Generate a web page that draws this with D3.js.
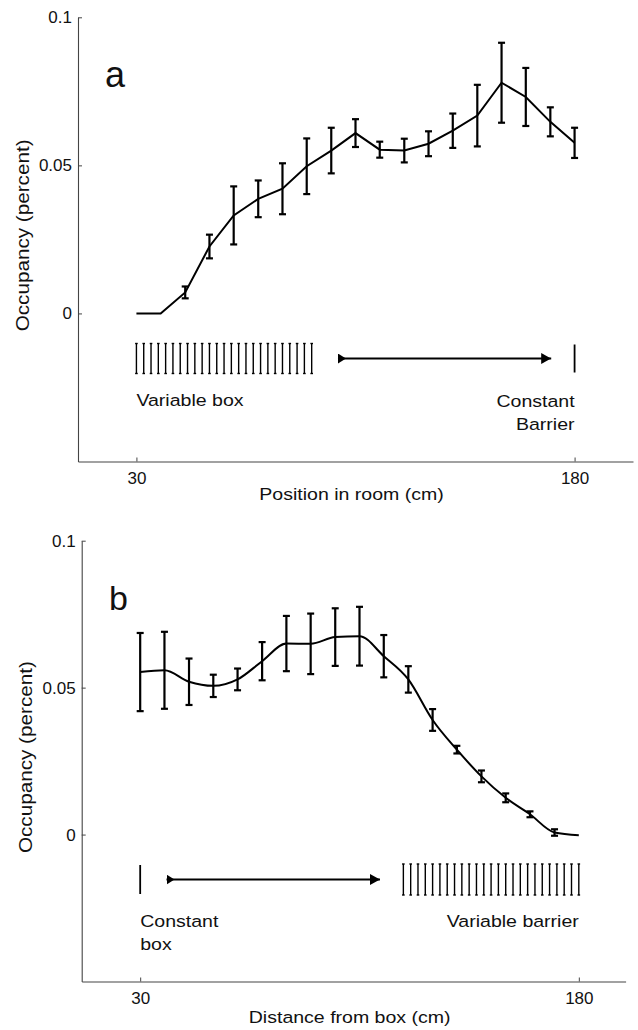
<!DOCTYPE html>
<html>
<head>
<meta charset="utf-8">
<script src="https://cdn.jsdelivr.net/npm/d3@7"></script>
<style>
  html, body { margin: 0; padding: 0; background: #fff; }
  svg { display: block; }
  text { font-family: "Liberation Sans", Arial, Helvetica, sans-serif; fill: #111; }
</style>
</head>
<body>
<svg id="chart" width="638" height="1030"></svg>
<script>
// ---------- data ----------
const positionsA = [30, 38.3, 46.7, 55, 63.3, 71.7, 80, 88.3, 96.7, 105, 113.3, 121.7, 130, 138.3, 146.7, 155, 163.3, 171.7, 180];
const occupancyA = [0, 0, 0.0071, 0.0226, 0.0331, 0.0387, 0.0421, 0.0497, 0.055, 0.0609, 0.0553, 0.055, 0.0573, 0.0617, 0.0668, 0.0779, 0.0731, 0.0647, 0.0576];
const errorA     = [0, 0, 0.002, 0.004, 0.0098, 0.0062, 0.0086, 0.0094, 0.0077, 0.0047, 0.0027, 0.004, 0.0042, 0.0058, 0.0104, 0.0135, 0.0098, 0.0049, 0.0051];

const distancesB = [30, 38.3, 46.7, 55, 63.3, 71.7, 80, 88.3, 96.7, 105, 113.3, 121.7, 130, 138.3, 146.7, 155, 163.3, 171.7, 180];
const occupancyB = [0.0553, 0.0559, 0.052, 0.0506, 0.0528, 0.059, 0.065, 0.0649, 0.0672, 0.0675, 0.0607, 0.0528, 0.039, 0.0289, 0.0198, 0.0125, 0.0069, 0.0007, -0.0002];
const errorB     = [0.0133, 0.0131, 0.0079, 0.0038, 0.0037, 0.0065, 0.0094, 0.0103, 0.0098, 0.01, 0.0072, 0.0045, 0.0037, 0.0013, 0.002, 0.0015, 0.001, 0.0011, 0];

// schematic annotations (cm)
const variableBoxA = [30, 32.5, 35, 37.5, 40, 42.5, 45, 47.5, 50, 52.5, 55, 57.5, 60, 62.5, 65, 67.5, 70, 72.5, 75, 77.5, 80, 82.5, 85, 87.5, 90];
const constantA = [180];
const arrowA = [99, 172];
const constantB = [30];
const arrowB = [39, 112];
const variableBarrierB = [120, 122.5, 125, 127.5, 130, 132.5, 135, 137.5, 140, 142.5, 145, 147.5, 150, 152.5, 155, 157.5, 160, 162.5, 165, 167.5, 170, 172.5, 175, 177.5, 180];

const yTicks = [0, 0.05, 0.1];
const yTickLabels = ["0", "0.05", "0.1"];
const xTicks = [30, 180];
const xTickLabels = ["30", "180"];

// ---------- drawing ----------
const svg = d3.select("#chart");
const SX = 1.15; // horizontal stretch of the original lettering

svg.append("defs").call(defs => {
  defs.append("marker").attr("id", "head").attr("markerUnits", "userSpaceOnUse")
    .attr("viewBox", "0 0 10 11").attr("markerWidth", 10).attr("markerHeight", 11)
    .attr("refX", 10).attr("refY", 5.5).attr("orient", "auto")
    .append("path").attr("d", "M0,0 L10,5.5 L0,11 Z").attr("fill", "#000");
  defs.append("marker").attr("id", "tail").attr("markerUnits", "userSpaceOnUse")
    .attr("viewBox", "0 0 8 10").attr("markerWidth", 8).attr("markerHeight", 10)
    .attr("refX", 0).attr("refY", 5).attr("orient", "auto")
    .append("path").attr("d", "M0,0 L8,5 L0,10 Z").attr("fill", "#000");
});

function stretchedText(g, x, y, str, size, anchor, sx) {
  return g.append("text")
    .attr("transform", `translate(${x},${y}) scale(${sx},1)`)
    .attr("text-anchor", anchor)
    .style("font-size", size + "px")
    .text(str);
}

function panel(cfg) {
  const x = d3.scaleLinear().domain(cfg.xDomain).range(cfg.xRange);
  const y = d3.scaleLinear().domain([-0.05, 0.1]).range(cfg.yRange);
  const g = svg.append("g");

  // axes
  const yAxis = d3.axisLeft(y).tickValues(yTicks).tickSize(-4).tickSizeOuter(0).tickPadding(6)
    .tickFormat((d, i) => yTickLabels[i]);
  const ya = g.append("g").attr("transform", `translate(${x(cfg.xDomain[0])},0)`).call(yAxis);
  const xAxis = d3.axisBottom(x).tickValues(xTicks).tickSize(-4).tickSizeOuter(0).tickPadding(10)
    .tickFormat((d, i) => xTickLabels[i]);
  const xa = g.append("g").attr("transform", `translate(0,${y(-0.05)})`).call(xAxis);
  [ya, xa].forEach(a => {
    a.select(".domain").attr("stroke", "#444").attr("stroke-width", 1.1);
    a.selectAll(".tick line").attr("stroke", "#444").attr("stroke-width", 1);
    a.selectAll(".tick text").style("font-size", "17px").attr("fill", "#111")
      .style("font-family", '"Liberation Sans", Arial, sans-serif');
  });

  // axis labels
  stretchedText(g, (cfg.xRange[0] + cfg.xRange[1]) / 2 - 4, cfg.xLabelY, cfg.xLabel, 17, "middle", SX);
  g.append("text")
    .attr("transform", `translate(${cfg.yLabelX},${(cfg.yRange[0] + cfg.yRange[1]) / 2 - 4}) rotate(-90) scale(${SX},1)`)
    .attr("text-anchor", "middle").style("font-size", "18px").text("Occupancy (percent)");

  // panel letter
  g.append("text").attr("x", cfg.letterX).attr("y", cfg.letterY)
    .style("font-size", cfg.letterSize + "px").text(cfg.letter);

  // error bars
  const pts = cfg.xs.map((d, i) => ({ x: d, v: cfg.vs[i], e: cfg.es[i] }));
  const cap = 3.5;
  const eb = g.append("g").attr("stroke", "#000").attr("stroke-width", 2.2).attr("fill", "none");
  pts.filter(p => p.e > 0).forEach(p => {
    const cx = x(p.x), y0 = y(p.v - p.e), y1 = y(p.v + p.e);
    eb.append("line").attr("x1", cx).attr("x2", cx).attr("y1", y0).attr("y2", y1);
    eb.append("line").attr("x1", cx - cap).attr("x2", cx + cap).attr("y1", y0).attr("y2", y0);
    eb.append("line").attr("x1", cx - cap).attr("x2", cx + cap).attr("y1", y1).attr("y2", y1);
  });

  // data line
  const line = d3.line().x(p => x(p.x)).y(p => y(p.v)).curve(cfg.curve);
  g.append("path").datum(pts).attr("d", line)
    .attr("fill", "none").attr("stroke", "#000").attr("stroke-width", 2);

  // schematic: variable set (I-beams)
  const hs = g.append("g").attr("stroke", "#000").attr("stroke-width", 1.4);
  cfg.variable.forEach(v => {
    const cx = x(v);
    hs.append("line").attr("x1", cx).attr("x2", cx).attr("y1", cfg.schemTop).attr("y2", cfg.schemBot);
    hs.append("line").attr("x1", cx - 1.3).attr("x2", cx + 1.3).attr("y1", cfg.schemTop).attr("y2", cfg.schemTop);
    hs.append("line").attr("x1", cx - 1.3).attr("x2", cx + 1.3).attr("y1", cfg.schemBot).attr("y2", cfg.schemBot);
  });
  // constant element
  cfg.constant.forEach(v => {
    g.append("line").attr("x1", x(v)).attr("x2", x(v)).attr("y1", cfg.schemTop + 1).attr("y2", cfg.schemBot - 1)
      .attr("stroke", "#000").attr("stroke-width", 1.8);
  });
  // arrow
  const ay = (cfg.schemTop + cfg.schemBot) / 2;
  g.append("line").attr("x1", x(cfg.arrow[0])).attr("x2", x(cfg.arrow[1])).attr("y1", ay).attr("y2", ay)
    .attr("stroke", "#000").attr("stroke-width", 2)
    .attr("marker-start", "url(#tail)").attr("marker-end", "url(#head)");

  // schematic texts
  cfg.texts.forEach(t => {
    stretchedText(g, x(t.at), t.y, t.s, 17, t.anchor, SX);
  });
}

panel({
  xDomain: [10, 200], xRange: [78, 633], yRange: [461.5, 17.3],
  xs: positionsA, vs: occupancyA, es: errorA, curve: d3.curveLinear,
  xLabel: "Position in room (cm)", xLabelY: 500, yLabelX: 29,
  letter: "a", letterX: 105, letterY: 87, letterSize: 36,
  variable: variableBoxA, constant: constantA, arrow: arrowA,
  schemTop: 343.5, schemBot: 373.5,
  texts: [
    { s: "Variable box", at: 30, y: 406, anchor: "start" },
    { s: "Constant", at: 180, y: 407, anchor: "end" },
    { s: "Barrier", at: 180, y: 430, anchor: "end" }
  ]
});

panel({
  xDomain: [10, 196], xRange: [81.7, 625.6], yRange: [981.5, 540.7],
  xs: distancesB, vs: occupancyB, es: errorB, curve: d3.curveMonotoneX,
  xLabel: "Distance from box (cm)", xLabelY: 1023, yLabelX: 32,
  letter: "b", letterX: 109, letterY: 610, letterSize: 34,
  variable: variableBarrierB, constant: constantB, arrow: arrowB,
  schemTop: 864, schemBot: 895,
  texts: [
    { s: "Constant", at: 30, y: 927, anchor: "start" },
    { s: "box", at: 30, y: 950, anchor: "start" },
    { s: "Variable barrier", at: 180, y: 927, anchor: "end" }
  ]
});
</script>
</body>
</html>
